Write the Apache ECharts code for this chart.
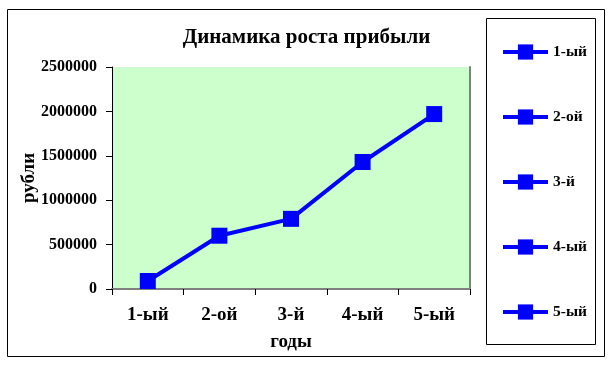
<!DOCTYPE html>
<html>
<head>
<meta charset="utf-8">
<script src="https://cdn.jsdelivr.net/npm/echarts@6/dist/echarts.min.js"></script>
<style>
html,body{margin:0;padding:0;background:#fff;}
#c{width:613px;height:365px;}
</style>
</head>
<body>
<div id="c"></div>
<script>
var titleText = 'Динамика роста прибыли';
var categories = ['1-ый', '2-ой', '3-й', '4-ый', '5-ый'];
var profit = [90000, 600000, 790000, 1430000, 1970000];
var yTicks = [0, 500000, 1000000, 1500000, 2000000, 2500000];
var xName = 'годы';
var yName = 'рубли';

var FONT = '"Liberation Serif", "Times New Roman", serif';
var BLUE = '#0000FF';

var legendSeries = categories.map(function (c) {
  return {
    type: 'line', name: c, data: [],
    xAxisIndex: 0, yAxisIndex: 0,
    symbol: 'rect',
    lineStyle: { color: BLUE, width: 4 },
    itemStyle: { color: BLUE }
  };
});

var chart = echarts.init(document.getElementById('c'), null, { renderer: 'canvas' });
chart.setOption({
  animation: false,
  backgroundColor: '#ffffff',
  title: {
    text: titleText, left: 'center', top: 27, padding: 0,
    textStyle: { fontFamily: FONT, fontWeight: 'bold', fontSize: 21, color: '#000' }
  },
  graphic: [
    { type: 'rect', shape: { x: 7.5, y: 9.5, width: 597, height: 347 },
      style: { fill: null, stroke: '#000', lineWidth: 1 }, z: -1 },
    { type: 'rect', shape: { x: 486.5, y: 18.5, width: 109, height: 326 },
      style: { fill: null, stroke: '#000', lineWidth: 1 }, z: -1 }
  ],
  legend: {
    orient: 'vertical', left: 501, top: 44, padding: 0,
    data: categories,
    itemWidth: 45, itemHeight: 19, itemGap: 49,
    lineStyle: { width: 4 },
    textStyle: { fontFamily: FONT, fontWeight: 'bold', fontSize: 15.5, color: '#000' },
    selectedMode: false
  },
  grid: {
    left: 112, right: 143, top: 67, bottom: 76,
    show: true, backgroundColor: '#CCFFCC', borderWidth: 0
  },
  xAxis: [{
    type: 'category', data: categories, boundaryGap: true, position: 'bottom',
    name: xName, nameLocation: 'middle', nameGap: 44, nameMoveOverlap: false,
    nameTextStyle: { fontFamily: FONT, fontWeight: 'bold', fontSize: 19, color: '#000' },
    axisLine: { show: true, lineStyle: { color: '#000', width: 1 } },
    axisTick: { show: true, length: 6, lineStyle: { color: '#000' } },
    axisLabel: { margin: 17, fontFamily: FONT, fontWeight: 'bold', fontSize: 19, color: '#000' },
    splitLine: { show: false }
  }, {
    type: 'category', data: categories, position: 'top', gridIndex: 0,
    axisLine: { show: true, lineStyle: { color: '#808080', width: 2 } },
    axisTick: { show: false }, axisLabel: { show: false }, splitLine: { show: false }
  }],
  yAxis: [{
    type: 'value', min: yTicks[0], max: yTicks[yTicks.length - 1], interval: yTicks[1] - yTicks[0],
    name: yName, nameLocation: 'middle', nameGap: 73, nameRotate: 90, nameMoveOverlap: false,
    nameTextStyle: { fontFamily: FONT, fontWeight: 'bold', fontSize: 19, color: '#000' },
    axisLine: { show: true, lineStyle: { color: '#000', width: 1 } },
    axisTick: { show: true, length: 6, lineStyle: { color: '#000' } },
    axisLabel: { margin: 15, fontFamily: FONT, fontWeight: 'bold', fontSize: 16, color: '#000',
      formatter: function (v) { return String(v); } },
    splitLine: { show: false }
  }, {
    type: 'value', min: yTicks[0], max: yTicks[yTicks.length - 1], position: 'right',
    axisLine: { show: true, lineStyle: { color: '#808080', width: 2 } },
    axisTick: { show: false }, axisLabel: { show: false }, splitLine: { show: false }
  }],
  series: [{
    type: 'line', name: 'Прибыль', data: profit,
    xAxisIndex: 0, yAxisIndex: 0,
    symbol: 'rect', symbolSize: 16,
    lineStyle: { color: BLUE, width: 4 },
    itemStyle: { color: BLUE },
    z: 3
  }].concat(legendSeries)
});
</script>
</body>
</html>
